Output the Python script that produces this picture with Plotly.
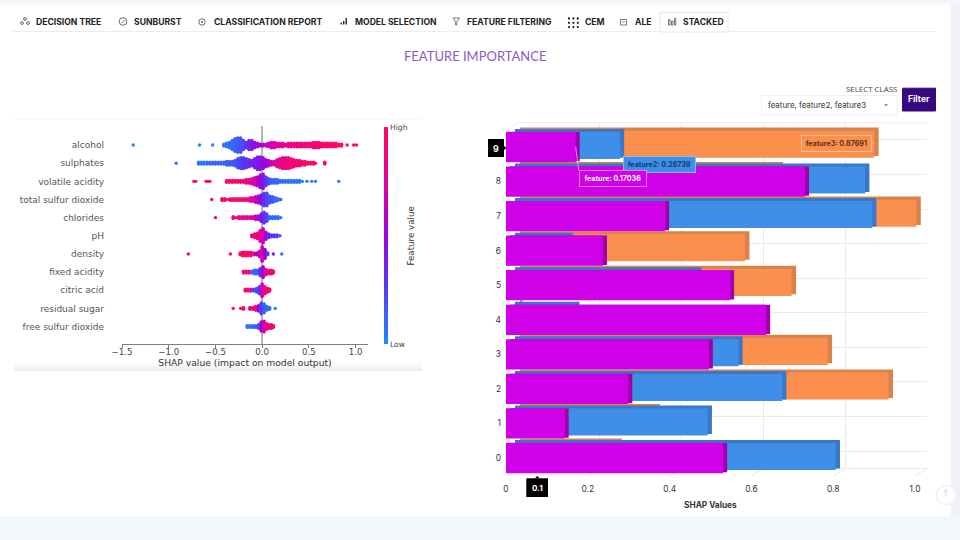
import plotly.graph_objects as go

# ---------- data ----------
features = ["free sulfur dioxide", "residual sugar", "citric acid", "fixed acidity", "density", "pH",
            "chlorides", "total sulfur dioxide", "volatile acidity", "sulphates", "alcohol"]
shap_ticks = [-1.5, -1.0, -0.5, 0.0, 0.5, 1.0]

alcohol_x = [-1.38,-.67,-.53,-.41,-.38,-.35,-.32,-.29,-.26,-.23,-.20,-.17,-.14,-.11,-.08,-.05,-.02,.01,.04,.07,.10,.13,.16,.19,.22,.25,.28,.31,.34,.37,.40,.43,.46,.49,.52,.55,.58,.61,.64,.67,.70,.73,.76,.79,.82,.85,.91,.98,1.01]
alcohol_h = [0,0,0,1,2,3,5,7,8,8,5,3,5,5,3,2,1,1,1,2,3,3,2,2,2,1,2,2,2,2,2,2,2,2,2,3,3,3,2,2,2,2,2,2,1,1,0,0,0]
alcohol_v = [.03,.03,.03,.05,.05,.08,.1,.12,.15,.18,.22,.28,.35,.4,.45,.5,.55,.6,.63,.66,.7,.72,.75,.77,.78,.8,.82,.83,.85,.85,.86,.87,.88,.9,.9,.92,.92,.93,.93,.94,.95,.95,.95,.97,.97,.97,.98,.98,.98]
sulphates_x = [-.92,-.68,-.65,-.62,-.59,-.56,-.53,-.50,-.47,-.44,-.41,-.38,-.35,-.32,-.29,-.26,-.23,-.20,-.17,-.14,-.11,-.08,-.05,-.02,.01,.04,.07,.10,.13,.16,.19,.22,.25,.28,.31,.34,.37,.40,.43,.46,.49,.52,.55,.57,.67]
sulphates_h = [0,1,1,1,1,1,1,1,1,1,1,2,2,2,3,5,6,6,5,4,3,5,7,7,6,4,3,2,2,4,5,6,6,6,5,4,3,3,2,2,1,1,1,0,1]
sulphates_v = [.03,.06,.06,.08,.08,.08,.1,.1,.1,.12,.12,.14,.15,.16,.18,.2,.24,.28,.3,.32,.35,.38,.4,.42,.45,.5,.6,.66,.7,.78,.82,.85,.87,.88,.9,.9,.92,.92,.93,.93,.95,.95,.95,.95,.98]
volatile_x = [-.73,-.71,-.60,-.58,-.56,-.38,-.35,-.32,-.29,-.26,-.23,-.20,-.17,-.14,-.11,-.08,-.05,-.02,.01,.04,.07,.10,.13,.16,.19,.22,.25,.28,.31,.34,.37,.40,.43,.48,.53,.57,.82]
volatile_h = [0,0,0,0,0,1,1,1,1,1,1,1,2,2,3,4,5,7,8,5,3,2,2,2,1,1,1,1,1,1,1,1,0,0,0,0,0]
volatile_v = [.97,.97,.97,.97,.97,.95,.95,.95,.93,.93,.9,.9,.88,.85,.8,.72,.6,.5,.42,.3,.2,.15,.12,.12,.1,.1,.08,.08,.06,.06,.06,.05,.05,.04,.04,.03,.03]
total_sulfur_x = [-.54,-.43,-.40,-.37,-.34,-.31,-.28,-.25,-.22,-.19,-.16,-.13,-.10,-.07,-.04,-.01,.02,.05,.08,.11,.14,.17,.20]
total_sulfur_h = [0,1,1,0,1,1,1,1,1,1,1,2,2,3,4,5,7,7,4,3,2,1,0]
total_sulfur_v = [.98,.96,.95,.95,.93,.93,.92,.9,.9,.88,.85,.82,.75,.65,.55,.45,.3,.22,.18,.15,.12,.1,.08]
chlorides_x = [-.5,-.31,-.28,-.25,-.22,-.19,-.16,-.13,-.10,-.07,-.04,-.01,.02,.05,.08,.11,.14,.17,.20]
chlorides_h = [0,1,0,1,1,1,1,1,1,2,2,4,6,4,1,1,1,1,0]
chlorides_v = [.97,.92,.92,.88,.85,.82,.8,.78,.72,.65,.55,.45,.3,.22,.15,.12,.1,.08,.06]
ph_x = [-.11,-.08,-.05,-.02,.01,.04,.07,.10,.13,.16,.19]
ph_h = [1,2,3,6,8,4,2,1,1,1,0]
ph_v = [.92,.9,.85,.8,.72,.45,.35,.3,.28,.25,.2]
density_x = [-.79,-.34,-.235,-.21,-.18,-.15,-.12,-.09,-.06,-.03,0,.03,.06,.12,.21]
density_h = [0,0,1,2,2,2,2,1,1,3,8,5,1,0,0]
density_v = [.98,.97,.95,.95,.94,.92,.9,.85,.5,.7,.7,.5,.3,.35,.05]
fixed_x = [-.2,-.17,-.14,-.11,-.08,-.05,-.02,.01,.04,.07,.10,.12]
fixed_h = [1,1,1,1,2,2,4,6,3,2,2,1]
fixed_v = [.97,.95,.9,.15,.12,.15,.3,.55,.8,.88,.92,.95]
citric_x = [-.18,-.15,-.12,-.09,-.06,-.03,0,.03,.06,.08]
citric_h = [1,1,1,1,2,4,7,4,2,1]
citric_v = [.97,.95,.85,.25,.2,.3,.7,.82,.9,.95]
residual_x = [-.31,-.23,-.2,-.13,-.1,-.07,-.04,-.01,.02,.05,.08,.14]
residual_h = [0,0,1,1,1,2,3,6,5,2,1,0]
residual_v = [.98,.97,.97,.95,.9,.85,.55,.25,.15,.1,.08,.05]
free_x = [-.16,-.13,-.1,-.07,-.04,-.01,.02,.05,.08,.10,.12]
free_h = [1,1,1,1,2,5,6,3,2,2,1]
free_v = [.05,.08,.1,.12,.2,.45,.7,.85,.9,.92,.95]

rows = [0, 1, 2, 3, 4, 5, 6, 7, 8, 9]
feature_vals = [.531, .1435, .299, .496, .636, .548, .237, .389, .731, .17036]
feature2_vals = [.795, .482, .664, .557, .158, .456, .142, .884, .867, .26739]
feature3_vals = [.249, .342, .912, .763, .006, .675, .561, .98, .643, .87691]
value_ticks = [0, .2, .4, .6, .8, 1.0]
value_labels = ["0", "0.2", "0.4", "0.6", "0.8", "1.0"]
row_labels = ["0", "1", "2", "3", "4", "5", "6", "7", "8", ""]
tabs = [("DECISION TREE", 35), ("SUNBURST", 132.5), ("CLASSIFICATION REPORT", 212.5), ("MODEL SELECTION", 353.5),
        ("FEATURE FILTERING", 465.5), ("CEM", 584), ("ALE", 634), ("STACKED", 682)]

# ---------- geometry helpers ----------
W, H = 960, 540
X = lambda p: p / W
Y = lambda p: 1 - p / H
UI = "Inter"
shapes, annots = [], []

def rect(x0, y0, x1, y1, fill=None, line=None, lw=1, layer="below", opacity=1):
    shapes.append(dict(type="rect", xref="paper", yref="paper", x0=X(x0), x1=X(x1), y0=Y(y1), y1=Y(y0),
                       fillcolor=fill or "rgba(0,0,0,0)", line=dict(color=line or "rgba(0,0,0,0)", width=lw if line else 0),
                       layer=layer, opacity=opacity))

def seg(x0, y0, x1, y1, color, lw=1, layer="below"):
    shapes.append(dict(type="line", xref="paper", yref="paper", x0=X(x0), x1=X(x1), y0=Y(y0), y1=Y(y1),
                       line=dict(color=color, width=lw), layer=layer))

def poly(pts, fill=None, line=None, lw=1, layer="above"):
    path = "M" + " L".join(f"{X(a):.5f},{Y(b):.5f}" for a, b in pts) + " Z"
    shapes.append(dict(type="path", xref="paper", yref="paper", path=path, fillcolor=fill or "rgba(0,0,0,0)",
                       line=dict(color=line or "rgba(0,0,0,0)", width=lw if line else 0), layer=layer))

def circ(cx, cy, r, fill=None, line=None, lw=1, layer="below"):
    shapes.append(dict(type="circle", xref="paper", yref="paper", x0=X(cx - r), x1=X(cx + r), y0=Y(cy + r), y1=Y(cy - r),
                       fillcolor=fill or "rgba(0,0,0,0)", line=dict(color=line or "rgba(0,0,0,0)", width=lw if line else 0), layer=layer))

def text(x, y, s, size, color="#222", anchor="left", family=UI, **kw):
    annots.append(dict(xref="paper", yref="paper", x=X(x), y=Y(y), text=s, showarrow=False, xanchor=anchor, yanchor="middle",
                       font=dict(size=size, color=color, family=family), borderpad=0, **kw))

# ---------- page chrome ----------
PAGE = "#f4f7fa"
rect(0, 0, 960, 4.7, PAGE)
rect(0, 515.7, 960, 540, PAGE)
rect(951, 4.7, 960, 515.7, "#eff1f7")
seg(13, 31.5, 936, 31.5, "#ececec")
rect(660, 12.5, 728, 32, "#ffffff", "#e6e8ea")
for label, x0 in tabs:
    text(x0, 21.7, f"<b>{label}</b>", 8.6)

# tab icons
ic = "#444"
for dx, dy in [(0, 0), (-3, 4), (3, 4)]:
    circ(25 + dx, 19 + dy, 1.4, None, ic, .8)
circ(123, 21.5, 3.8, None, ic, .8)
seg(121.5, 23, 124.5, 20, ic, .8)
circ(202, 22, 3.2, None, ic, .8)
circ(202, 22, .9, ic)
for x0, h in [(340.5, 2), (343, 3.5), (345.5, 6.5)]:
    rect(x0, 24.5 - h, x0 + 1.4, 24.5, "#222")
poly([(453, 18), (459.5, 18), (456.8, 22), (456.8, 25), (455.6, 25), (455.6, 22)], None, ic, .7, "below")
for i in range(3):
    for j in range(3):
        circ(569 + 4.4 * i, 18.5 + 4.3 * j, 1.15, "#222")
rect(620.5, 19.5, 626.5, 25, None, ic, .7)
seg(622, 22, 625, 22, ic, .6)
rect(668.5, 19.5, 670, 25, None, ic, .7)
rect(671.5, 21, 673, 25, None, ic, .7)
rect(674.5, 18.5, 675.8, 25, None, ic, .7)

text(475, 56, "FEATURE IMPORTANCE", 13, "#8a5cc8", "center", "Lato")

# filter controls
text(897.5, 89, "SELECT CLASS", 7.9, "#444", "right", "Open Sans")
rect(761.5, 95.5, 897, 115, "#ffffff", "#f0f0f0")
text(767, 105.2, "feature, feature2, feature3", 7.9, "#333", "left", UI)
poly([(884, 104.3), (888, 104.3), (886, 106.3)], "#777")
rect(902.5, 88.2, 935.5, 111, "#38087e", "#38087e", 1)
text(919, 99.5, "<b>Filter</b>", 8.6, "#ffffff", "center", UI)

# image panel edges
rect(14, 118.5, 422, 119.5, "#f6f6f6")
for k, op in enumerate([.005, .008, .012, .015, .02, .02, .025, .025]):
    rect(14, 361 + k * 1.25, 422, 371, "#777777", opacity=op)

# scroll-to-top button
for r, c in [(10.5, "#f3f3f5"), (9.5, "#f8f8fa")]:
    circ(946, 495, r, c, layer="above")
circ(946, 495, 8.5, "#ffffff", layer="above")

# ---------- SHAP beeswarm ----------
swarm = [(free_x, free_h, free_v), (residual_x, residual_h, residual_v), (citric_x, citric_h, citric_v),
         (fixed_x, fixed_h, fixed_v), (density_x, density_h, density_v), (ph_x, ph_h, ph_v),
         (chlorides_x, chlorides_h, chlorides_v), (total_sulfur_x, total_sulfur_h, total_sulfur_v),
         (volatile_x, volatile_h, volatile_v), (sulphates_x, sulphates_h, sulphates_v), (alcohol_x, alcohol_h, alcohol_v)]
ROW_PX = 18.15 / .9
px, py, pc = [], [], []
for idx, (xs, hs, vs) in enumerate(swarm):
    for x, h, v in zip(xs, hs, vs):
        for k in range(-h, h + 1):
            px.append(x); py.append(idx + k / ROW_PX); pc.append(v)

shap_scale = [[0, "#1e88ff"], [.28, "#5a35f5"], [.5, "#a000e0"], [.72, "#dc00a8"], [1, "#ff0a5c"]]

# ---------- figure axes ----------
fig = go.Figure()
axes = {}
FRONT_L, FRONT_R, FRONT_T, FRONT_B = 506, 915, 129.7, 475.3
SPACING = (FRONT_B - FRONT_T) / 10

def axis_pair(i, dx, dy):
    s = "" if i == 1 else str(i)
    axes[f"xaxis{s}"] = dict(domain=[X(FRONT_L + dx), X(FRONT_R + dx)], range=[0, 1], anchor=f"y{s}", visible=False, fixedrange=True)
    axes[f"yaxis{s}"] = dict(domain=[Y(FRONT_B + dy), Y(FRONT_T + dy)], range=[-.5, 9.5], anchor=f"x{s}", visible=False, fixedrange=True)
    return f"x{s}", f"y{s}"

# back wall grid
gx, gy = axis_pair(1, 12, -7)
axes["xaxis"].update(visible=True, showgrid=True, gridcolor="#e9e9ee", gridwidth=1, tickvals=value_ticks, showticklabels=False,
                     ticks="", zeroline=False, showline=False)
axes["yaxis"].update(visible=True, showgrid=True, gridcolor="#e9e9ee", gridwidth=1, tickvals=rows, showticklabels=False,
                     ticks="", zeroline=False, showline=False)
fig.add_trace(go.Scatter(x=[], y=[], xaxis=gx, yaxis=gy, showlegend=False))

# floor and wall edges, placed from the axis ticks
for t in value_ticks:
    fx = FRONT_L + t * (FRONT_R - FRONT_L)
    seg(fx, 476, fx + 12, 468.3, "#e6e6ea")
seg(518, 468.3, 928, 468.3, "#e9e9ee")
seg(506, 131, 518, 122.7, "#ececf0")
seg(518, 122.7, 928, 122.7, "#f0f0f4")

layers = [
    (feature3_vals, "#d9824a", 14, -5.25, 28.5, False),
    (feature3_vals, "#fb8f4e", 9.5, -2.8, 27, False),
    (feature2_vals, "#3878c6", 8.8, -3.75, 28.5, False),
    (feature2_vals, "#3f8fe8", 4.6, -1.5, 27, False),
    (feature_vals, "#a000a8", 4, -.4, 29.3, False),
    (feature_vals, "#d000e8", 0, 0, 30.3, True),
]
for n, (vals, col, dx, dy, hpx, front) in enumerate(layers):
    xa, ya = axis_pair(n + 2, dx, dy)
    fig.add_trace(go.Bar(x=vals, y=rows, orientation="h", width=hpx / SPACING, marker=dict(color=col, line=dict(width=0)),
                         xaxis=xa, yaxis=ya, showlegend=False, hoverinfo="skip"))
front_n = len(layers) + 1
fs = str(front_n)
axes[f"xaxis{fs}"].update(visible=True, showgrid=False, zeroline=False, showline=False, tickvals=value_ticks, ticktext=value_labels,
                          ticks="", tickfont=dict(size=8.4, color="#333", family=UI), ticklabelstandoff=7)
axes[f"yaxis{fs}"].update(visible=True, showgrid=False, zeroline=False, showline=False, tickvals=rows, ticktext=row_labels,
                          ticks="", tickfont=dict(size=8.4, color="#333", family=UI), ticklabelstandoff=4)

# beeswarm axes
sn = front_n + 1
ss = str(sn)
axes[f"xaxis{ss}"] = dict(domain=[X(122), X(368)], range=[-1.5, 1.133], anchor=f"y{ss}", fixedrange=True, tickvals=shap_ticks,
                          tickformat=".1f", ticks="outside", ticklen=3, tickcolor="#777", showgrid=False, zeroline=True, zerolinecolor="#b5b5b5",
                          zerolinewidth=1.5, showline=True, linecolor="#808080", linewidth=1, ticklabelstandoff=-4,
                          tickfont=dict(size=8.6, color="#444", family="DejaVu Sans"),
                          title=dict(text="SHAP value (impact on model output)", standoff=0, font=dict(size=9.2, color="#333", family="DejaVu Sans")))
axes[f"yaxis{ss}"] = dict(domain=[Y(344.3), Y(126)], range=[-.98, 11.05], anchor=f"x{ss}", fixedrange=True, tickvals=list(range(11)), ticktext=features,
                          ticks="", showgrid=False, zeroline=False, showline=False, ticklabelstandoff=17,
                          tickfont=dict(size=9, color="#555", family="DejaVu Sans"))
fig.add_trace(go.Scatter(x=px, y=py, mode="markers", xaxis=f"x{ss}", yaxis=f"y{ss}", showlegend=False, hoverinfo="skip",
                         marker=dict(size=3.4, color=pc, cmin=0, cmax=1, colorscale=shap_scale, line=dict(width=0),
                                     colorbar=dict(x=X(384), xanchor="left", y=Y(127), yanchor="top", len=217, lenmode="pixels",
                                                   thickness=4, thicknessmode="pixels", xpad=0, ypad=0, outlinewidth=0, tickvals=[0, 1],
                                                   ticktext=["Low", "High"], ticks="", tickfont=dict(size=7.6, color="#444", family="DejaVu Sans")))))
text(410.5, 236, "Feature value", 8.7, "#333", "center", "DejaVu Sans", textangle=-90)

# ---------- bar tooltips ----------
tip = dict(size=7.1, family=UI)
annots.append(dict(xref="paper", yref="paper", x=X(836.5), y=Y(143.2), xanchor="center", yanchor="middle", text="<b>feature3: 0.87691</b>",
                   showarrow=False, bgcolor="#fb8f4e", bordercolor="#fcc9a8", borderwidth=.8, width=67, height=13.5, font=dict(color="#5a3418", **tip)))
poly([(870.5, 140), (874, 143), (870.5, 146)], "#fb8f4e", "#fcc9a8", .7)
annots.append(dict(xref="x5", yref="y5", x=feature2_vals[9], y=9, text="<b>feature2: 0.26739</b>", showarrow=True, arrowhead=0, arrowwidth=.9,
                   arrowcolor="#3f8fe8", ax=3, ay=10.5, xanchor="left", yanchor="top", bgcolor="#3f8fe8", bordercolor="#9cc6f3",
                   borderwidth=.8, width=69, height=13, font=dict(color="#123a66", **tip)))
annots.append(dict(xref="x7", yref="y7", x=feature_vals[9], y=9, text="<b>feature: 0.17036</b>", showarrow=True, arrowhead=0, arrowwidth=.9,
                   arrowcolor="#f0a0f5", ax=3, ay=23, xanchor="left", yanchor="top", bgcolor="#d000e8", bordercolor="#ec9cf4",
                   borderwidth=.8, width=64, height=13.5, font=dict(color="#ffffff", **tip)))

# crosshair labels
rect(488, 139, 504, 157, "#000000", layer="above")
poly([(504, 146), (506.5, 148), (504, 150)], "#000000")
text(496, 148, "<b>9</b>", 8.8, "#ffffff", "center")
rect(526.3, 478.3, 548, 497, "#000000", layer="above")
poly([(535, 478.3), (537.3, 476), (539.6, 478.3)], "#000000")
text(537.2, 487.6, "<b>0.1</b>", 8.2, "#ffffff", "center")
text(710.7, 505, "<b>SHAP Values</b>", 8.3, "#333", "center")
text(946, 493, "↑", 9, "#d5d5d5", "center", "DejaVu Sans")

fig.update_layout(width=W, height=H, margin=dict(l=0, r=0, t=0, b=0, autoexpand=False), paper_bgcolor="#ffffff",
                  plot_bgcolor="rgba(0,0,0,0)", showlegend=False, barmode="overlay", shapes=shapes, annotations=annots,
                  font=dict(family=UI), **axes)
fig.write_html("out.html", config=dict(displayModeBar=False),
               post_script="document.body.style.margin='0';document.body.style.overflow='hidden';")
